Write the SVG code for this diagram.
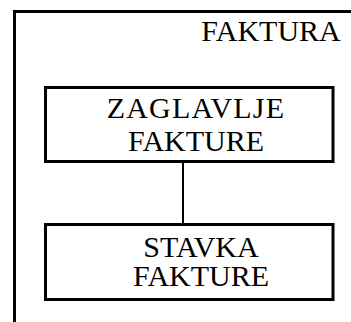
<svg xmlns="http://www.w3.org/2000/svg" width="351" height="322" viewBox="0 0 351 322">
<style>
.box{fill:#fff;stroke:#000;stroke-width:3}
.t{font-family:"Liberation Serif","Times New Roman",serif;font-size:30px;fill:#000;text-anchor:middle}
</style>
<rect width="351" height="322" fill="#fff"/>
<g id="faktura">
<path d="M14.5,322 V11.5 H351" fill="none" stroke="#000" stroke-width="3"/>
<text class="t" x="271" y="41">FAKTURA</text>
</g>
<g id="connectors">
<line x1="183" y1="163" x2="183" y2="223" stroke="#000" stroke-width="2"/>
</g>
<g id="zaglavlje">
<rect class="box" x="45.5" y="87.5" width="287.5" height="74"/>
<text class="t" x="196" y="118" letter-spacing="1.2">ZAGLAVLJE</text>
<text class="t" x="196" y="151">FAKTURE</text>
</g>
<g id="stavka">
<rect class="box" x="45.5" y="224.5" width="287.5" height="75"/>
<text class="t" x="201" y="256.5">STAVKA</text>
<text class="t" x="201" y="286">FAKTURE</text>
</g>
</svg>
